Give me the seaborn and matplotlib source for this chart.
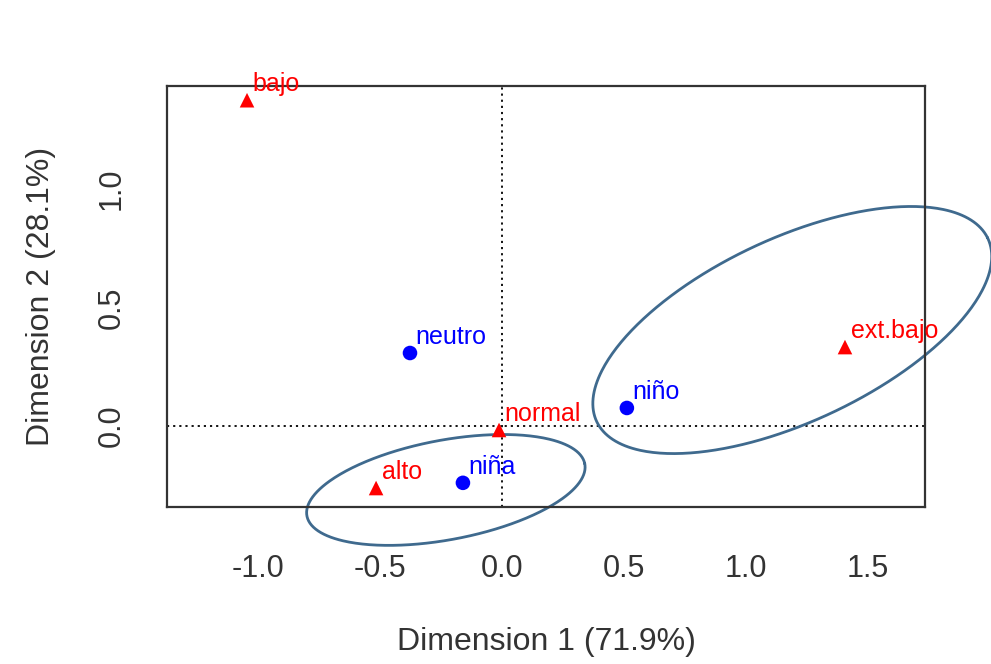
import numpy as np
import pandas as pd
import matplotlib
matplotlib.use("Agg")
import matplotlib.pyplot as plt
import seaborn as sns

# Correspondence analysis coordinates (first two dimensions)
row_labels = ["neutro", "niña", "niño"]
row_dim1 = [-0.377, -0.160, 0.512]
row_dim2 = [0.308, -0.240, 0.076]

col_labels = ["alto", "bajo", "ext.bajo", "normal"]
col_dim1 = [-0.516, -1.045, 1.406, -0.012]
col_dim2 = [-0.262, 1.375, 0.333, -0.017]

x_ticks = [-1.0, -0.5, 0.0, 0.5, 1.0, 1.5]
y_ticks = [0.0, 0.5, 1.0]
x_label = "Dimension 1 (71.9%)"
y_label = "Dimension 2 (28.1%)"

# Group ellipses: centre, semi-axes and rotation (degrees)
ell_center = [(-0.23, -0.27), (1.19, 0.405)]
ell_axes = [(0.58, 0.21), (0.89, 0.385)]
ell_angle = [11.0, 26.0]

sns.set_style("white")
plt.rcParams["font.family"] = ["Liberation Sans", "DejaVu Sans"]

df = pd.DataFrame({
    "dim1": row_dim1 + col_dim1,
    "dim2": row_dim2 + col_dim2,
    "label": row_labels + col_labels,
    "kind": ["row"] * len(row_labels) + ["col"] * len(col_labels),
})

fig = plt.figure(figsize=(9.91, 6.64), dpi=100)
ax = fig.add_axes([167 / 991, 1 - 507 / 664, (925 - 167) / 991, (507 - 86) / 664])

colors = {"row": "#0000FF", "col": "#FF0000"}
ax.axhline(0, color="black", lw=1.3, ls=(0, (1.2, 2.2)), zorder=1)
ax.axvline(0, color="black", lw=1.3, ls=(0, (1.2, 2.2)), zorder=1)

sns.scatterplot(data=df, x="dim1", y="dim2", hue="kind", style="kind",
                palette=colors, markers={"row": "o", "col": "^"},
                s=110, linewidth=0, legend=False, ax=ax, zorder=3, clip_on=False)

for _, r in df.iterrows():
    ax.annotate(r["label"], (r["dim1"], r["dim2"]), xytext=(4, 3),
                textcoords="offset points", ha="left", va="bottom",
                color=colors[r["kind"]], fontsize=18, zorder=4,
                annotation_clip=False)

t = np.linspace(0, 2 * np.pi, 400)
for (cx, cy), (a, b), ang in zip(ell_center, ell_axes, ell_angle):
    th = np.deg2rad(ang)
    ex = cx + a * np.cos(t) * np.cos(th) - b * np.sin(t) * np.sin(th)
    ey = cy + a * np.cos(t) * np.sin(th) + b * np.sin(t) * np.cos(th)
    ax.plot(ex, ey, color="#3F6A8E", lw=2.0, clip_on=False, zorder=2)

ax.set_xlim(-1.373, 1.734)
ax.set_ylim(-0.342, 1.435)
ax.set_xticks(x_ticks)
ax.set_yticks(y_ticks)
ax.set_xticklabels([f"{v:.1f}" for v in x_ticks])
ax.set_yticklabels([f"{v:.1f}" for v in y_ticks], rotation=90, va="center")
ax.tick_params(axis="both", direction="out", length=13, width=1.5,
               color="#333333", labelsize=22, labelcolor="#333333")
ax.tick_params(axis="x", pad=21)
ax.tick_params(axis="y", pad=16)
ax.set_xlabel(x_label, fontsize=23, color="#333333", labelpad=31)
ax.set_ylabel(y_label, fontsize=23, color="#333333", labelpad=29)

for sp in ax.spines.values():
    sp.set_visible(True)
    sp.set_color("#333333")
    sp.set_linewidth(1.6)

fig.savefig("out.png", dpi=100, facecolor="white")
